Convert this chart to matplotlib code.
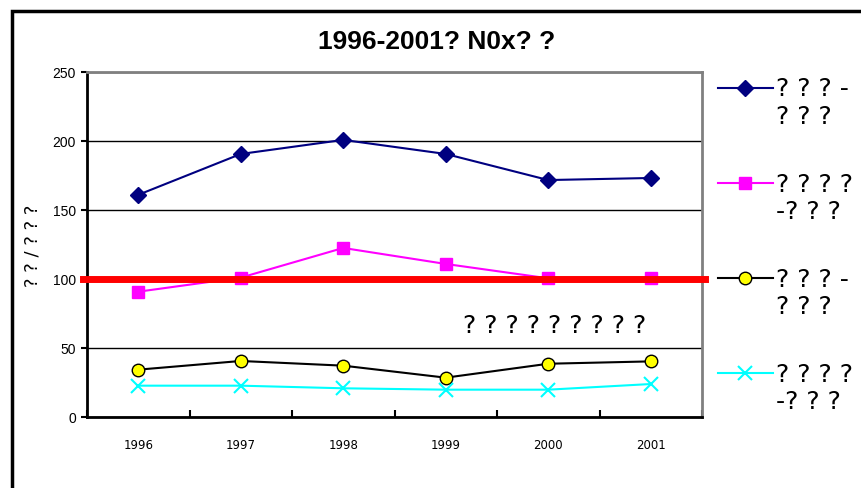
import matplotlib.pyplot as plt
from matplotlib.patches import Rectangle
from matplotlib.legend_handler import HandlerLine2D

# data
years = ['1996', '1997', '1998', '1999', '2000', '2001']
series_a = [161, 190.6, 200.8, 190.6, 171.7, 173.2]
series_b = [90.8, 101, 122.5, 110.9, 100.5, 100.5]
series_c = [34.3, 40.6, 37.2, 28.5, 38.6, 40.3]
series_d = [22.7, 22.7, 20.8, 19.8, 19.8, 23.9]
labels = ['? ? ? -\n? ? ?', '? ? ? ?\n-? ? ?', '? ? ? -\n? ? ?', '? ? ? ?\n-? ? ?']
limit = 100
note = '? ? ? ? ? ? ? ? ?'
title = '1996-2001? N0x? ?'
ylabel = '? ? / ? ? ?'


# legend handle sits level with the first text line, as in Excel
class FirstLineHandler(HandlerLine2D):
    def create_artists(self, legend, orig_handle, xdescent, ydescent,
                       width, height, fontsize, trans):
        arts = super().create_artists(legend, orig_handle, xdescent, ydescent,
                                      width, height, fontsize, trans)
        for a in arts:
            a.set_ydata([y + 11 for y in a.get_ydata()])
        return arts


fig = plt.figure(figsize=(8.61, 4.89), dpi=100)
ax = fig.add_axes([87 / 861, 71 / 489, 615 / 861, 345 / 489])

x = list(range(len(years)))
ax.plot(x, series_a, color='#000080', lw=1.5, marker='D', ms=8, label=labels[0])
ax.plot(x, series_b, color='#ff00ff', lw=1.5, marker='s', ms=8, mfc='#ff00ff',
        mec='#ff00ff', label=labels[1])
ax.plot(x, series_c, color='black', lw=1.5, marker='o', ms=9, mfc='#ffff00',
        mec='black', label=labels[2])
ax.plot(x, series_d, color='#00ffff', lw=1.5, marker='x', ms=10, mew=1.5,
        label=labels[3])
ax.axhline(limit, color='red', lw=5, xmin=-0.007, xmax=1.005, clip_on=False, zorder=5)

ax.text(4.06, 67, note, fontsize=18, ha='center', va='center')

ax.set_xlim(-0.5, 5.5)
ax.set_ylim(0, 250)
ax.set_yticks([0, 50, 100, 150, 200, 250])
ax.yaxis.grid(True, color='black', lw=1)
ax.set_axisbelow(True)
ax.set_xticks(x)
ax.set_xticklabels(years, fontsize=8.5)
ax.set_xticks([i + 0.5 for i in range(-1, 6)], minor=True)
ax.tick_params(axis='x', which='major', length=0, pad=15)
ax.tick_params(axis='x', which='minor', direction='in', length=5, width=1.5)
ax.tick_params(axis='y', direction='out', length=4, width=1.5, labelsize=10, pad=4)
for t in ax.get_yticklabels():
    t.set_family('Liberation Sans')
ax.set_ylabel(ylabel, fontsize=13, labelpad=8)

for s in ['left', 'bottom']:
    ax.spines[s].set_color('black')
    ax.spines[s].set_linewidth(2)
for s in ['top', 'right']:
    ax.spines[s].set_color('gray')
    ax.spines[s].set_linewidth(2)

fig.text(437 / 861, 1 - 42 / 489, title, fontsize=19, fontweight='bold',
         ha='center', va='center', family='Liberation Sans')

leg = fig.legend(loc='upper left', bbox_to_anchor=(705 / 861, 1 - 65 / 489), frameon=False,
                 fontsize=18, labelspacing=1.73, handlelength=2.2, handletextpad=0.15,
                 borderpad=0, handler_map={plt.Line2D: FirstLineHandler()})
for t in leg.get_texts():
    t.set_linespacing(1.2)

fig.patches.append(Rectangle((12 / 861, -0.1), 1.0, 1 - 12 / 489 + 0.1,
                             transform=fig.transFigure, fill=False, ec='black', lw=2.5))

fig.savefig('out.png', dpi=100)
